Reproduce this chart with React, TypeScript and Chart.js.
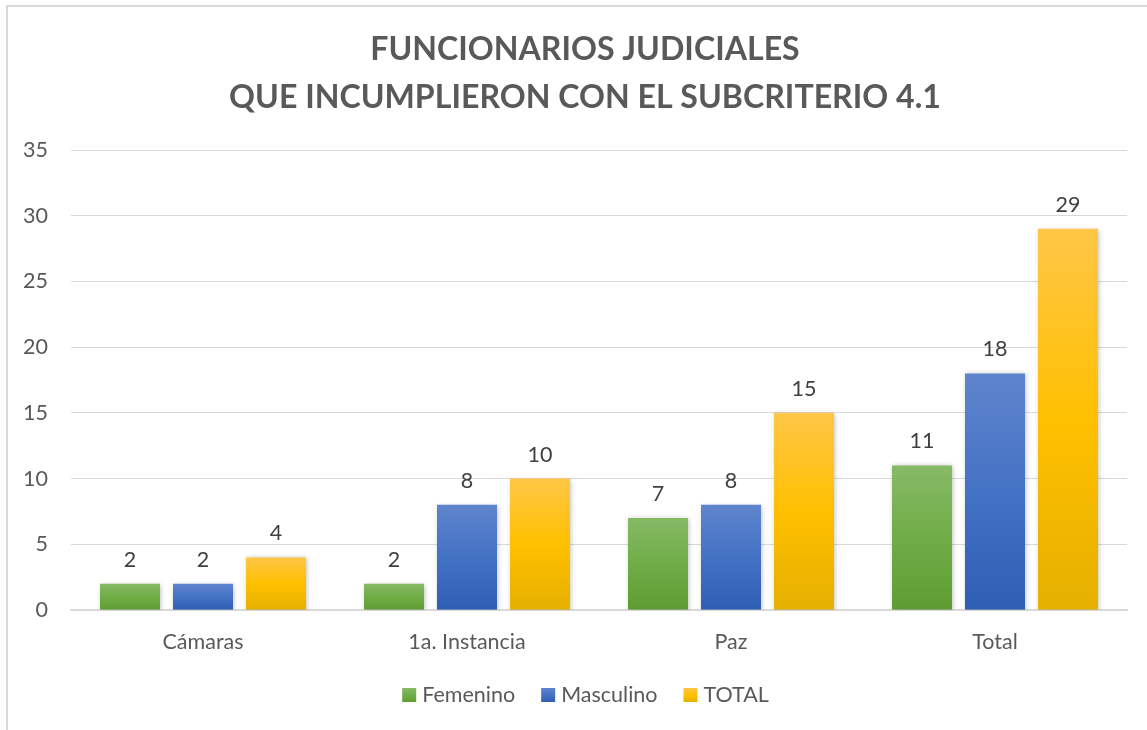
import React, { useEffect, useRef } from 'react';
import { Chart, registerables } from 'chart.js';

Chart.register(...registerables);

const categories = ['Cámaras', '1a. Instancia', 'Paz', 'Total'];
const femenino = [2, 2, 7, 11];
const masculino = [2, 8, 8, 18];
const totalSerie = [4, 10, 15, 29];
const seriesNames = ['Femenino', 'Masculino', 'TOTAL'];
const titleLines = ['FUNCIONARIOS JUDICIALES', 'QUE INCUMPLIERON CON EL SUBCRITERIO 4.1'];
const yMin = 0;
const yMax = 35;
const yStep = 5;

const FONT = 'Lato';
const TEXT_SIZE = 21.5;
const palettes = [
  ['#87ba67', '#70ad47', '#5e9c33'],
  ['#5f84cd', '#4472c4', '#2e5db4'],
  ['#ffc647', '#ffc000', '#e5b000'],
];

function makeGradient(c: CanvasRenderingContext2D, pal: string[], top: number, bot: number) {
  const g = c.createLinearGradient(0, top, 0, bot);
  g.addColorStop(0, pal[0]);
  g.addColorStop(0.5, pal[1]);
  g.addColorStop(1, pal[2]);
  return g;
}

const frameTitlePlugin = {
  id: 'frameTitle',
  beforeDraw(chart: any) {
    const c: CanvasRenderingContext2D = chart.ctx;
    c.save();
    c.fillStyle = '#ffffff';
    c.fillRect(0, 0, chart.width, chart.height);
    c.strokeStyle = '#d9d9d9';
    c.lineWidth = 2;
    c.strokeRect(7, 6, 1400, 1000);
    c.fillStyle = '#595959';
    c.textAlign = 'center';
    c.textBaseline = 'alphabetic';
    c.font = `bold 100px ${FONT}`;
    const w = c.measureText(titleLines[1]).width;
    const size = (100 * 712) / w;
    c.font = `bold ${size.toFixed(2)}px ${FONT}`;
    c.fillText(titleLines[0], 585, 60);
    c.fillText(titleLines[1], 585, 108);
    c.restore();
  },
};

const shadowPlugin = {
  id: 'barShadow',
  beforeDatasetsDraw(chart: any) {
    const c: CanvasRenderingContext2D = chart.ctx;
    c.save();
    c.shadowColor = 'rgba(0,0,0,0.28)';
    c.shadowBlur = 5;
    c.shadowOffsetX = 1;
    c.shadowOffsetY = 1;
  },
  afterDatasetsDraw(chart: any) {
    chart.ctx.restore();
  },
};

const labelsPlugin = {
  id: 'valueLabels',
  afterDatasetsDraw(chart: any) {
    const c: CanvasRenderingContext2D = chart.ctx;
    c.save();
    c.font = `${TEXT_SIZE}px ${FONT}`;
    c.fillStyle = '#404040';
    c.textAlign = 'center';
    c.textBaseline = 'alphabetic';
    chart.data.datasets.forEach((ds: any, i: number) => {
      const meta = chart.getDatasetMeta(i);
      meta.data.forEach((el: any, j: number) => {
        c.fillText(String(ds.data[j]), el.x, el.y - 17);
      });
    });
    c.restore();
  },
};

const legendPlugin = {
  id: 'customLegend',
  afterDraw(chart: any) {
    const c: CanvasRenderingContext2D = chart.ctx;
    c.save();
    c.font = `${TEXT_SIZE}px ${FONT}`;
    const box = 14;
    const gap = 6;
    const itemGap = 26;
    const widths = seriesNames.map((n) => c.measureText(n).width);
    const totalW = widths.reduce((a, w) => a + box + gap + w, 0) + itemGap * (seriesNames.length - 1);
    let x = 585.5 - totalW / 2;
    const top = 688;
    seriesNames.forEach((n, i) => {
      c.fillStyle = makeGradient(c, palettes[i], top, top + box);
      c.fillRect(x, top, box, box);
      x += box + gap;
      c.fillStyle = '#595959';
      c.textAlign = 'left';
      c.textBaseline = 'alphabetic';
      c.fillText(n, x, top + box);
      x += widths[i] + itemGap;
    });
    c.restore();
  },
};

function barColor(idx: number) {
  return (ctx: any) => {
    const pal = palettes[idx];
    const chart = ctx.chart;
    if (ctx.type !== 'data') return pal[1];
    const y = chart.scales && chart.scales.y;
    if (!y || !chart.chartArea) return pal[1];
    const v = Number(ctx.raw);
    const top = y.getPixelForValue(v);
    const bot = y.getPixelForValue(0);
    if (!isFinite(top) || !isFinite(bot) || top === bot) return pal[1];
    return makeGradient(chart.ctx, pal, top, bot);
  };
}

export default function App() {
  const ref = useRef<HTMLCanvasElement | null>(null);
  useEffect(() => {
    if (!ref.current) return;
    Chart.defaults.font.family = FONT;
    const seriesData = [femenino, masculino, totalSerie];
    const chart = new Chart(ref.current, {
      type: 'bar',
      data: {
        labels: categories,
        datasets: seriesNames.map((name, i) => ({
          label: name,
          data: seriesData[i],
          backgroundColor: barColor(i),
          borderWidth: 0,
          categoryPercentage: 0.8295,
          barPercentage: 0.822,
        })),
      },
      options: {
        animation: false,
        responsive: false,
        maintainAspectRatio: false,
        layout: { padding: { top: 150, left: 0, right: 20, bottom: 0 } },
        plugins: {
          legend: { display: false },
          title: { display: false },
          tooltip: { enabled: false },
        },
        scales: {
          x: {
            grid: { display: false, drawTicks: false },
            border: { display: true, color: '#d9d9d9', width: 1.5 },
            ticks: { color: '#595959', font: { size: TEXT_SIZE, family: FONT }, padding: 19 },
            afterFit: (s: any) => {
              s.height = 120;
            },
          },
          y: {
            min: yMin,
            max: yMax,
            grid: { color: '#d9d9d9', lineWidth: 1, drawTicks: false },
            border: { display: false },
            ticks: { stepSize: yStep, color: '#595959', font: { size: TEXT_SIZE, family: FONT }, padding: 23 },
            afterFit: (s: any) => {
              s.width = 71;
            },
          },
        },
      },
      plugins: [frameTitlePlugin, shadowPlugin, labelsPlugin, legendPlugin],
    } as any);
    return () => chart.destroy();
  }, []);
  return (
    <div style={{ position: 'fixed', left: 0, top: 0, width: 1147, height: 730, background: '#fff' }}>
      <canvas ref={ref} width={1147} height={730} style={{ width: 1147, height: 730, display: 'block' }} />
    </div>
  );
}
